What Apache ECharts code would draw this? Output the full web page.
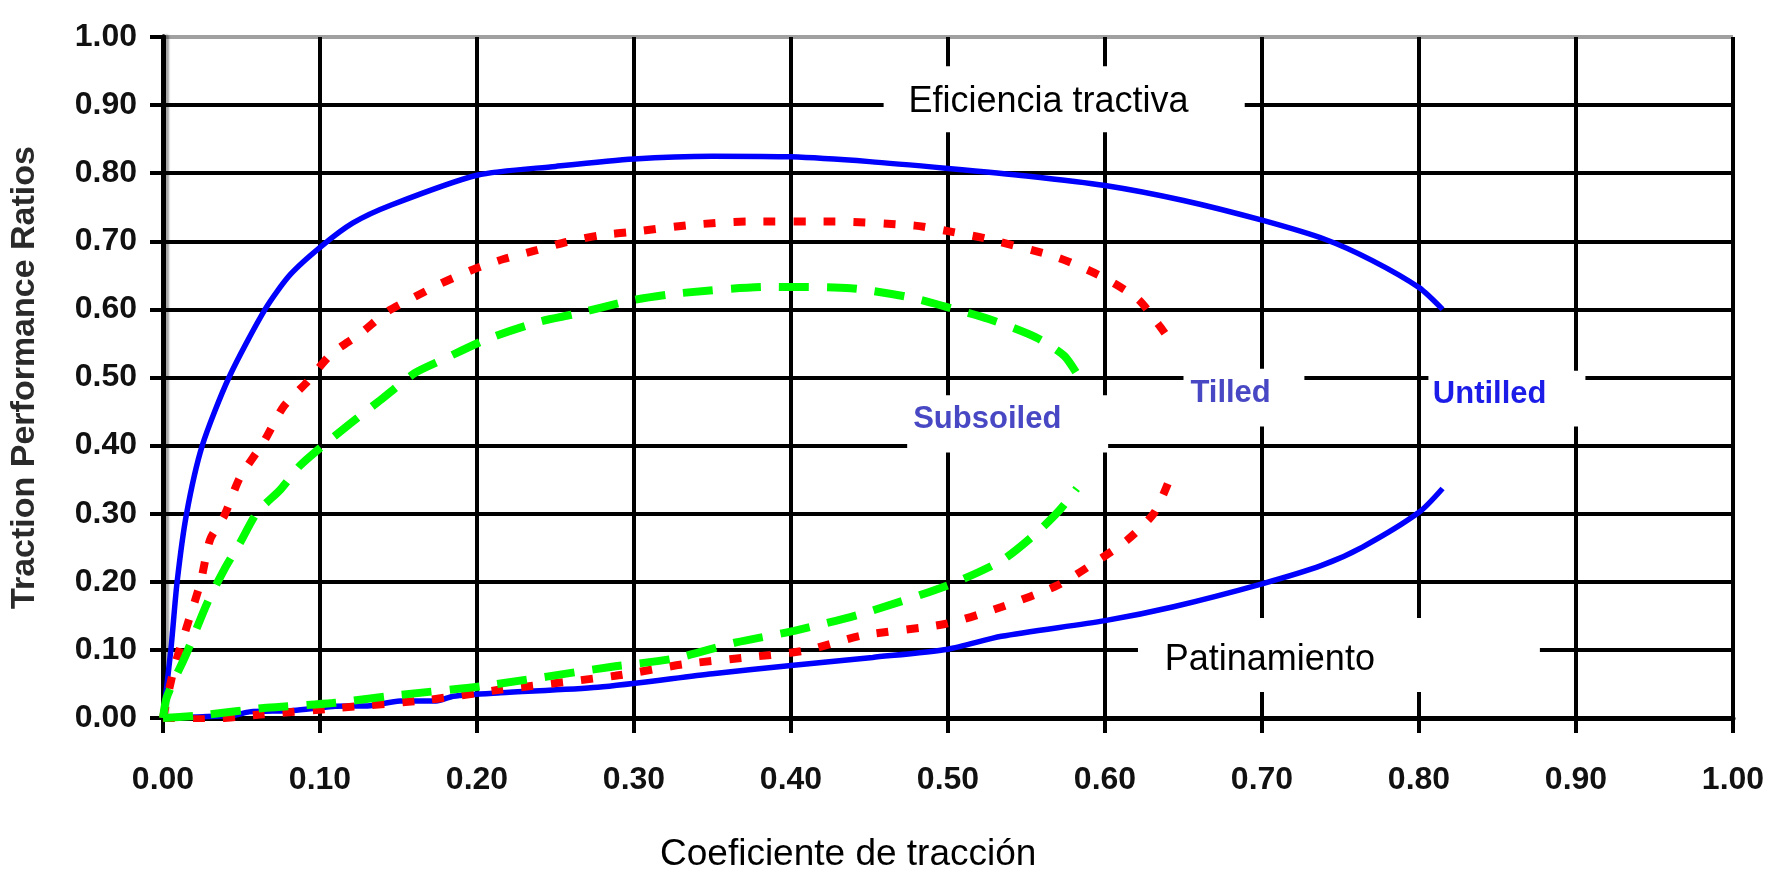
<!DOCTYPE html>
<html>
<head>
<meta charset="utf-8">
<script src="https://cdn.jsdelivr.net/npm/echarts@6/dist/echarts.min.js"></script>
<style>html,body{margin:0;padding:0;background:#fff;}#c{width:1785px;height:876px;}</style>
</head>
<body>
<div id="c"></div>
<script>
// ---- data ----
const xTicks = [0, 0.1, 0.2, 0.3, 0.4, 0.5, 0.6, 0.7, 0.8, 0.9, 1.0];
const yTicks = [0, 0.1, 0.2, 0.3, 0.4, 0.5, 0.6, 0.7, 0.8, 0.9, 1.0];

const untilledEffX = [0, 0.005, 0.009, 0.015, 0.025, 0.042, 0.065, 0.081, 0.101, 0.121, 0.145, 0.20, 0.25, 0.30, 0.35, 0.40, 0.45, 0.50, 0.55, 0.60, 0.65, 0.70, 0.74, 0.77, 0.80, 0.815];
const untilledEffY = [0, 0.10, 0.20, 0.30, 0.40, 0.50, 0.60, 0.651, 0.693, 0.727, 0.753, 0.797, 0.81, 0.821, 0.825, 0.824, 0.817, 0.807, 0.796, 0.782, 0.760, 0.731, 0.703, 0.672, 0.632, 0.600];

const tilledEffX = [0, 0.007, 0.015, 0.024, 0.030, 0.039, 0.049, 0.064, 0.077, 0.092, 0.107, 0.126, 0.143, 0.160, 0.177, 0.198, 0.217, 0.238, 0.257, 0.279, 0.30, 0.336, 0.372, 0.427, 0.479, 0.50, 0.526, 0.570, 0.599, 0.621, 0.634, 0.640];
const tilledEffY = [0, 0.073, 0.133, 0.20, 0.262, 0.297, 0.353, 0.405, 0.458, 0.494, 0.534, 0.565, 0.597, 0.618, 0.638, 0.659, 0.674, 0.687, 0.699, 0.709, 0.714, 0.724, 0.729, 0.729, 0.723, 0.715, 0.703, 0.676, 0.647, 0.615, 0.578, 0.559];

const subsoiledEffX = [0, 0.0025, 0.015, 0.028, 0.039, 0.049, 0.060, 0.075, 0.087, 0.104, 0.119, 0.138, 0.160, 0.177, 0.206, 0.240, 0.262, 0.30, 0.33, 0.387, 0.438, 0.475, 0.50, 0.526, 0.556, 0.574, 0.583];
const subsoiledEffY = [0, 0.031, 0.095, 0.168, 0.218, 0.257, 0.302, 0.336, 0.37, 0.404, 0.432, 0.466, 0.506, 0.525, 0.556, 0.582, 0.593, 0.614, 0.624, 0.633, 0.631, 0.618, 0.603, 0.586, 0.559, 0.532, 0.502];

const untilledSlipX = [0, 0.045, 0.055, 0.083, 0.108, 0.132, 0.151, 0.174, 0.185, 0.215, 0.277, 0.35, 0.40, 0.452, 0.50, 0.534, 0.60, 0.643, 0.70, 0.738, 0.764, 0.80, 0.815];
const untilledSlipY = [0, 0.004, 0.009, 0.011, 0.017, 0.018, 0.025, 0.025, 0.032, 0.037, 0.045, 0.065, 0.077, 0.089, 0.101, 0.120, 0.143, 0.163, 0.197, 0.224, 0.251, 0.302, 0.337];

const tilledSlipX = [0, 0.024, 0.062, 0.113, 0.170, 0.213, 0.288, 0.332, 0.372, 0.409, 0.445, 0.498, 0.534, 0.570, 0.592, 0.614, 0.631, 0.640];
const tilledSlipY = [0, -0.002, 0.005, 0.015, 0.027, 0.041, 0.062, 0.079, 0.089, 0.099, 0.121, 0.138, 0.163, 0.195, 0.226, 0.261, 0.300, 0.344];

const subsoiledSlipX = [0, 0.024, 0.066, 0.108, 0.151, 0.204, 0.285, 0.325, 0.365, 0.402, 0.445, 0.50, 0.534, 0.556, 0.571, 0.582];
const subsoiledSlipY = [0, 0.004, 0.015, 0.022, 0.034, 0.047, 0.075, 0.087, 0.111, 0.128, 0.153, 0.195, 0.231, 0.271, 0.305, 0.337];

// annotation texts and their anchors (data coordinates)
const annoTexts = ['Eficiencia tractiva', 'Patinamiento', 'Subsoiled', 'Tilled', 'Untilled'];
const annoBoxX1 = [0.459, 0.621, 0.474, 0.650, 0.806];
const annoBoxY1 = [0.860, 0.038, 0.390, 0.428, 0.428];
const annoBoxX2 = [0.689, 0.877, 0.602, 0.727, 0.906];
const annoBoxY2 = [0.957, 0.147, 0.474, 0.513, 0.510];
const annoTextX = [0.564, 0.705, 0.525, 0.680, 0.845];
const annoTextY = [0.905, 0.085, 0.438, 0.477, 0.475];

const xName = 'Coeficiente de tracción';
const yName = 'Traction Performance Ratios';

// ---- build ----
const zip = (xs, ys) => xs.map((x, i) => [x, ys[i]]);
const FONT = '"Liberation Sans", Arial, sans-serif';
const annoStyle = [
  { size: 36, weight: 'normal', color: '#000' },
  { size: 36, weight: 'normal', color: '#000' },
  { size: 31, weight: 'bold', color: '#4848c4' },
  { size: 31, weight: 'bold', color: '#4848c4' },
  { size: 31, weight: 'bold', color: '#1c1ce8' }
];
const annoData = annoTexts.map((t, i) => [annoBoxX1[i], annoBoxY1[i], annoBoxX2[i], annoBoxY2[i], annoTextX[i], annoTextY[i]]);

const ySplitColors = yTicks.map((v, i) => i === yTicks.length - 1 ? '#a0a0a0' : '#000');

const lineBase = { type: 'line', z: 3, showSymbol: false, smooth: 0.25 };
const redStyle = { color: '#ff0000', width: 8, type: [12, 18], cap: 'butt' };
const greenStyle = { color: '#00ff00', width: 8, type: [30, 18], cap: 'butt' };
const blueStyle = { color: '#0000ff', width: 5.5 };

const chart = echarts.init(document.getElementById('c'), null, { renderer: 'canvas' });
chart.setOption({
  animation: false,
  backgroundColor: '#fff',
  title: {
    text: xName, left: 660, top: 836, padding: 0,
    textStyle: { fontFamily: FONT, fontSize: 37, fontWeight: 'normal', color: '#000' }
  },
  grid: { left: 163, right: 52, top: 37, bottom: 158, containLabel: false },
  xAxis: {
    type: 'value', min: 0, max: 1, interval: 0.1,
    axisLine: { show: true, onZero: false, lineStyle: { color: '#000', width: 5 } },
    axisTick: { show: true, inside: false, length: 15, lineStyle: { color: '#000', width: 4 } },
    axisLabel: { margin: 46, fontFamily: FONT, fontSize: 32, fontWeight: 'bold', color: '#111',
      formatter: v => v.toFixed(2) },
    splitLine: { show: true, lineStyle: { color: '#000', width: 4 } }
  },
  yAxis: [{
    type: 'value', min: 0, max: 1, interval: 0.1,
    name: yName, nameLocation: 'middle', nameGap: 121, nameRotate: 90,
    nameTextStyle: { fontFamily: FONT, fontSize: 34, fontWeight: 'bold', color: '#2a2a2a' },
    axisLine: { show: true, onZero: false, lineStyle: { color: '#000', width: 5 } },
    axisTick: { show: true, inside: false, length: 13, lineStyle: { color: '#000', width: 4 } },
    axisLabel: { margin: 26, fontFamily: FONT, fontSize: 32, fontWeight: 'bold', color: '#111',
      formatter: v => v.toFixed(2) },
    splitLine: { show: true, lineStyle: { color: ySplitColors, width: 4 } }
  }, {
    type: 'value', min: 0, max: 1, interval: 0.1, position: 'right',
    axisLine: { show: true, lineStyle: { color: '#000', width: 5, shadowColor: 'rgba(0,0,0,0.35)', shadowOffsetX: 3, shadowBlur: 2 } },
    axisTick: { show: false }, axisLabel: { show: false }, splitLine: { show: false }
  }],
  series: [
    {
      name: 'annotations', type: 'custom', z: 1, silent: true, clip: false,
      data: annoData,
      renderItem: (params, api) => {
        const i = params.dataIndex;
        const p1 = api.coord([api.value(0), api.value(3)]);
        const p2 = api.coord([api.value(2), api.value(1)]);
        const pt = api.coord([api.value(4), api.value(5)]);
        const st = annoStyle[i];
        return {
          type: 'group',
          children: [
            { type: 'rect', shape: { x: p1[0], y: p1[1], width: p2[0] - p1[0], height: p2[1] - p1[1] },
              style: { fill: '#fff' } },
            { type: 'text', style: { text: annoTexts[i], x: pt[0], y: pt[1], fill: st.color,
              fontFamily: FONT, fontSize: st.size, fontWeight: st.weight, align: 'center', verticalAlign: 'middle' } }
          ]
        };
      }
    },
    Object.assign({ name: 'Untilled efficiency', data: zip(untilledEffX, untilledEffY), lineStyle: blueStyle }, lineBase),
    Object.assign({ name: 'Tilled efficiency', data: zip(tilledEffX, tilledEffY), lineStyle: redStyle }, lineBase),
    Object.assign({ name: 'Subsoiled efficiency', data: zip(subsoiledEffX, subsoiledEffY), lineStyle: greenStyle }, lineBase),
    Object.assign({ name: 'Untilled slip', data: zip(untilledSlipX, untilledSlipY), lineStyle: blueStyle }, lineBase),
    Object.assign({ name: 'Tilled slip', data: zip(tilledSlipX, tilledSlipY), lineStyle: redStyle }, lineBase),
    Object.assign({ name: 'Subsoiled slip', data: zip(subsoiledSlipX, subsoiledSlipY), lineStyle: greenStyle }, lineBase)
  ]
});
</script>
</body>
</html>
